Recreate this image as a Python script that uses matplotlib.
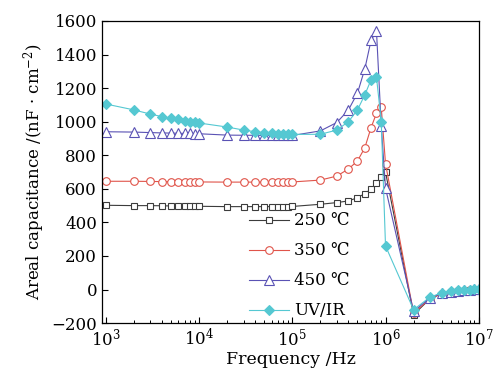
import matplotlib
matplotlib.use("Agg")
import matplotlib.pyplot as plt

plt.rcParams['font.family'] = ['DejaVu Serif', 'DejaVu Sans']
plt.rcParams['mathtext.fontset'] = 'dejavuserif'

# frequency points (Hz)
freq = [1e3, 2e3, 3e3, 4e3, 5e3, 6e3, 7e3, 8e3, 9e3,
        1e4, 2e4, 3e4, 4e4, 5e4, 6e4, 7e4, 8e4, 9e4,
        1e5, 2e5, 3e5, 4e5, 5e5, 6e5, 7e5, 8e5, 9e5,
        1e6, 2e6, 3e6, 4e6, 5e6, 6e6, 7e6, 8e6, 9e6,
        1e7]

# areal capacitance (nF/cm^2)
c250 = [502, 500, 500, 499, 498, 498, 497, 497, 497,
        496, 494, 494, 494, 494, 494, 494, 494, 494,
        495, 508, 518, 528, 547, 572, 598, 632, 668,
        700, -150, -55, -25, -15, -10, -6, -4, -2,
        0]
c350 = [645, 645, 644, 643, 643, 642, 642, 642, 642,
        641, 640, 640, 640, 640, 640, 640, 640, 640,
        641, 652, 676, 718, 766, 845, 965, 1050, 1085,
        750, -140, -55, -25, -15, -10, -6, -3, -1,
        0]
c450 = [940, 938, 935, 933, 932, 931, 930, 930, 929,
        928, 920, 919, 919, 918, 918, 918, 918, 918,
        918, 945, 995, 1070, 1170, 1315, 1485, 1540, 975,
        605, -130, -50, -22, -12, -7, -3, 0, 2,
        5]
c_uvir = [1105, 1070, 1045, 1030, 1020, 1013, 1006, 1001, 997,
          992, 968, 950, 940, 934, 930, 928, 926, 925,
          924, 925, 950, 1000, 1070, 1160, 1250, 1265, 1000,
          260, -120, -45, -20, -10, -5, -2, 0, 2,
          3]

labels = ['250 \u2103', '350 \u2103', '450 \u2103', 'UV/IR']

fig = plt.figure(figsize=(4.95, 3.74), dpi=100)
ax = fig.add_axes([0.206, 0.136, 0.762, 0.808])

ax.plot(freq, c250, '-s', color='#3c3c3c', mfc='white', mec='#3c3c3c',
        ms=5, lw=0.8, mew=0.8, label=labels[0])
ax.plot(freq, c350, '-o', color='#e0544a', mfc='white', mec='#e0544a',
        ms=5.5, lw=0.8, mew=0.8, label=labels[1])
ax.plot(freq, c450, '-^', color='#5a52b4', mfc='white', mec='#5a52b4',
        ms=7, lw=0.8, mew=0.8, label=labels[2])
ax.plot(freq, c_uvir, '-D', color='#55c8d2', mfc='#55c8d2', mec='#55c8d2',
        ms=5.5, lw=0.8, mew=0.8, label=labels[3])

ax.set_xscale('log')
ax.set_xlim(10**2.957, 10**7.005)
ax.set_ylim(-200, 1600)
ax.set_yticks(range(-200, 1601, 200))
ax.set_yticklabels(['\u2212200'] + [str(v) for v in range(0, 1601, 200)])

ax.tick_params(axis='both', which='major', direction='in', length=4,
               width=0.8, labelsize=12, top=False, right=False)
ax.tick_params(axis='x', which='minor', direction='in', length=2.5,
               width=0.7, top=False)
for s in ax.spines.values():
    s.set_linewidth(0.9)

ax.set_xlabel('Frequency /Hz', fontsize=12.5, labelpad=1)
ax.set_ylabel('Areal capacitance /(nF \u00b7 cm$^{-2}$)', fontsize=12, labelpad=3)

leg = ax.legend(loc='upper left', bbox_to_anchor=(0.36, 0.405), frameon=False,
                fontsize=12, handlelength=2.4, handletextpad=0.3,
                labelspacing=0.78, numpoints=1, borderpad=0.2)

fig.savefig('out.png', dpi=100)
